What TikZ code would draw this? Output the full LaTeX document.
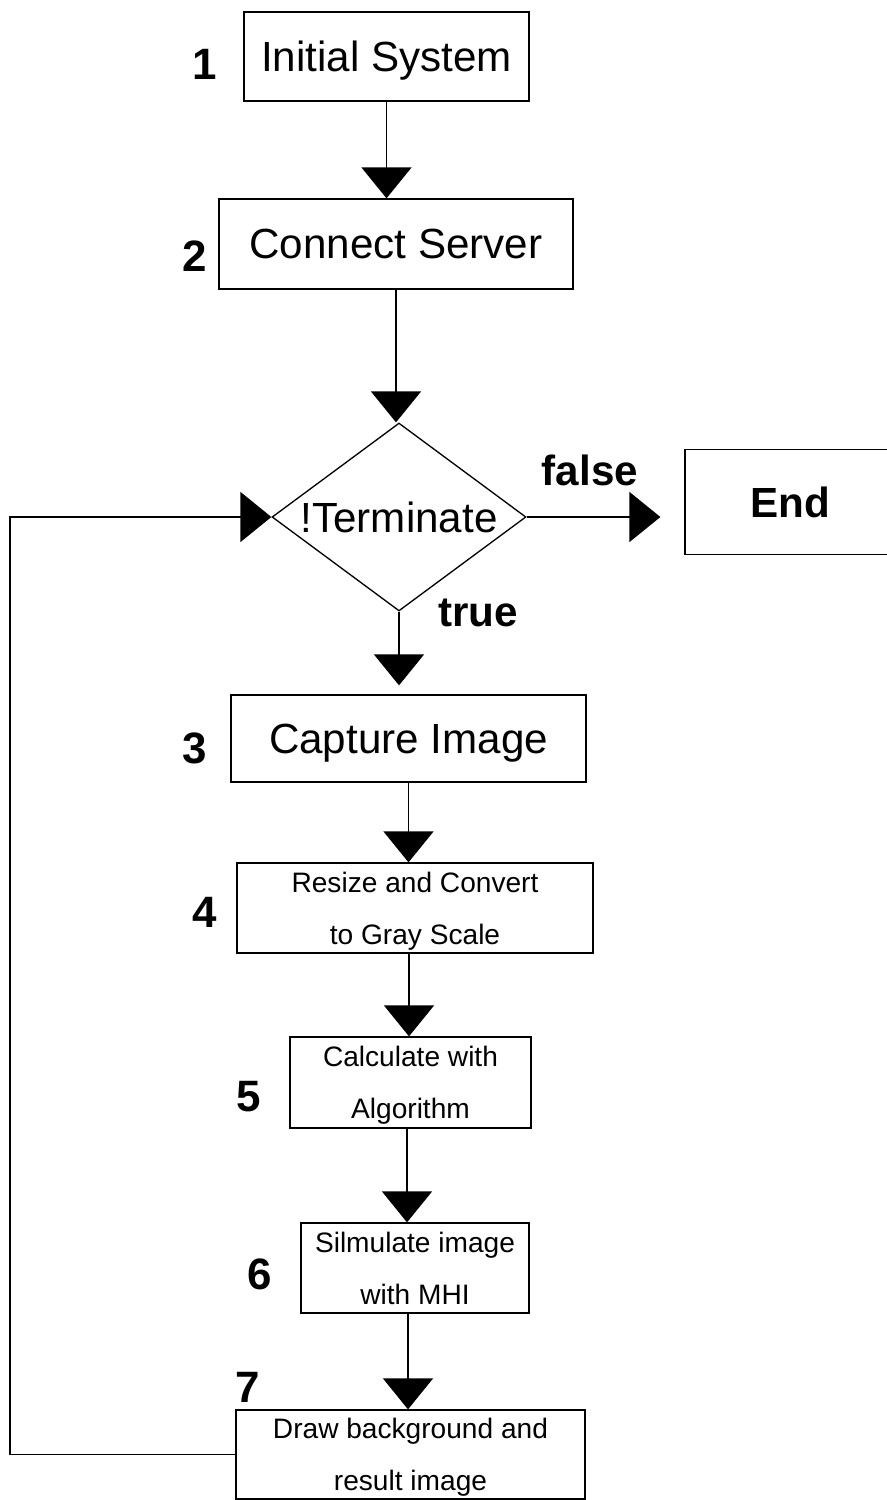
\documentclass[tikz,border=0pt]{standalone}
\usepackage{fontspec}
\setmainfont{Liberation Sans}
\usetikzlibrary{arrows.meta, positioning, shapes.geometric}

\tikzset{
    stepbox/.style={draw, line width=0.75pt, inner sep=0pt, text depth=0pt, font=\fontsize{24}{28}\selectfont},
    smallbox/.style={stepbox, align=center, font=\fontsize{16}{29.5}\selectfont},
    decision/.style={draw, diamond, line width=0.75pt, inner sep=0pt, shape aspect=1.35, text depth=0pt,
        minimum width=5.08cm, minimum height=3.76cm, font=\fontsize{24}{28}\selectfont},
    flow/.style={-{Triangle[length=0.62cm, width=1cm]}, line width=0.9pt},
    stepnum/.style={font=\fontsize{25}{25}\selectfont\bfseries},
    branch/.style={font=\fontsize{24}{24}\selectfont\bfseries},
}

\begin{document}
\begin{tikzpicture}[x=0.02cm, y=-0.02cm]
    \useasboundingbox (0,0) rectangle (886,1500);

    % Steps
    \node[stepbox, minimum width=5.7cm, minimum height=1.78cm] (init) at (386.5,56.5) {Initial System};
    \node[stepbox, minimum width=7.08cm, minimum height=1.8cm] (connect) at (396,244) {Connect Server};
    \node[decision] (check) at (399,517) {!Terminate};
    \node[stepbox, minimum width=4.2cm, minimum height=2.1cm, font=\fontsize{24}{28}\selectfont\bfseries] (endbox) at (790,502) {End};
    \node[stepbox, minimum width=7.1cm, minimum height=1.74cm] (capture) at (408.5,738.5) {Capture Image};
    \node[smallbox, minimum width=7.12cm, minimum height=1.8cm] (resize) at (415,908) {Resize and Convert\\to Gray Scale};
    \node[smallbox, minimum width=4.82cm, minimum height=1.82cm] (calc) at (410.5,1082.5) {Calculate with\\Algorithm};
    \node[smallbox, minimum width=4.56cm, minimum height=1.8cm] (mhi) at (415,1268) {Silmulate image\\with MHI};
    \node[smallbox, minimum width=6.98cm, minimum height=1.78cm] (result) at (410.5,1454.5) {Draw background and\\result image};

    % Step numbers
    \node[stepnum] (n1) at (205,64) {1};
    \node[stepnum] (n2) at (195,256) {2};
    \node[stepnum] (n3) at (195,748) {3};
    \node[stepnum] (n4) at (205,912) {4};
    \node[stepnum] (n5) at (249,1097) {5};
    \node[stepnum] (n6) at (260,1274) {6};
    \node[stepnum] (n7) at (248,1387) {7};

    % Branch labels
    \node[branch] (lfalse) at (590,470) {false};
    \node[branch] (ltrue) at (478,613) {true};

    % Flow
    \coordinate (loopx) at (10,0);
    \coordinate (col4) at (409,0);
    \coordinate (col5) at (407,0);
    \coordinate (col6) at (408,0);
    \draw[flow] (init.south) -- (init.south |- connect.north);
    \draw[flow] (connect.south) -- (connect.south |- check.north);
    \draw[flow, shorten >=0.48cm] (check.east) -- (check.east -| endbox.west);
    \draw[flow, shorten >=0.18cm] (check.south) -- (check.south |- capture.north);
    \draw[flow] (capture.south) -- (capture.south |- resize.north);
    \draw[flow] (resize.south -| col4) -- (col4 |- calc.north);
    \draw[flow] (calc.south -| col5) -- (col5 |- mhi.north);
    \draw[flow] (mhi.south -| col6) -- (col6 |- result.north);
    \draw[flow] (result.west) -- (result.west -| loopx) |- (check.west);
\end{tikzpicture}
\end{document}
